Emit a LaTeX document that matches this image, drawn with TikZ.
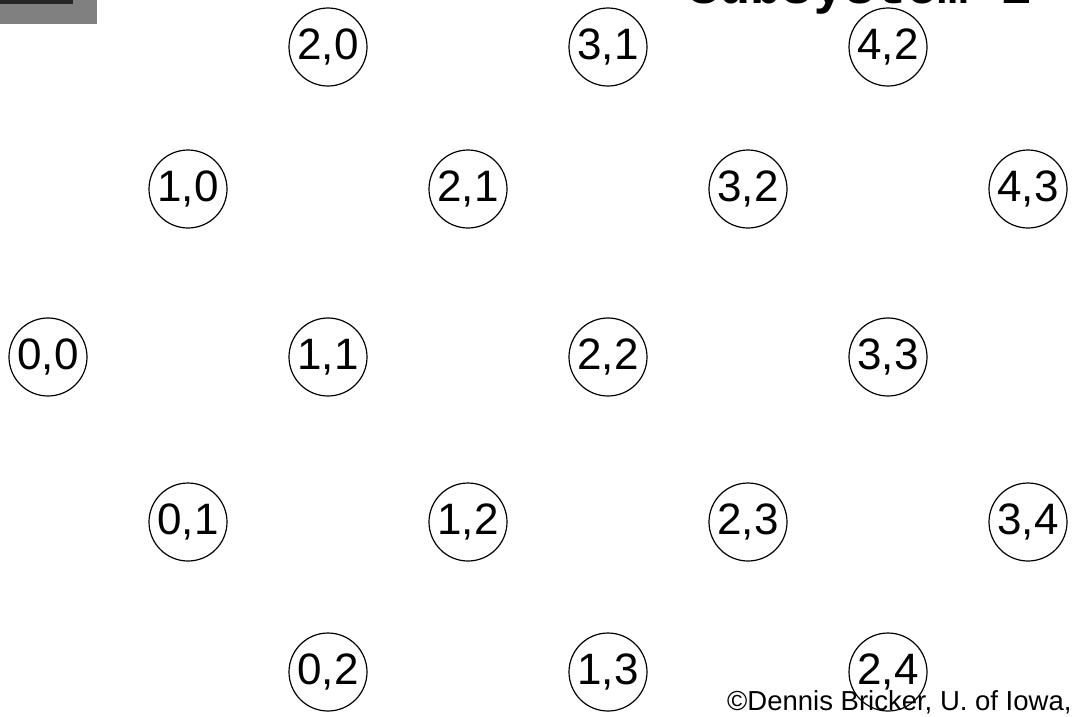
\documentclass[tikz,border=0pt]{standalone}
\usepackage{fontspec}
\setmainfont{Liberation Sans}
\newfontfamily\monofnt{Liberation Mono}
\begin{document}
\begin{tikzpicture}[x=1pt,y=1pt,
  statenode/.style={circle,draw=black,line width=1.2pt,minimum size=78pt,inner sep=0pt,
    font=\fontsize{44}{44}\selectfont},
  credit/.style={anchor=base west,inner sep=0pt,font=\fontsize{27.5}{27.5}\selectfont},
  titletext/.style={anchor=base west,inner sep=0pt,font=\monofnt\bfseries\fontsize{52}{52}\selectfont}]
\useasboundingbox (0,0) rectangle (1075,-716);
\clip (0,0) rectangle (1075,-716);
\fill[white] (0,0) rectangle (1075,-716);
% gray patterned corner
\fill[black!50] (0,0) rectangle (97,-24);
\fill[black!85] (0,0) rectangle (73,-4);
% title, cut by the top edge
\node[titletext] (title) at (688,-3) {Subsystem 1};
% state nodes
\foreach \i/\j in {2/0,3/1,4/2,1/0,2/1,3/2,4/3,0/0,1/1,2/2,3/3,0/1,1/2,2/3,3/4,0/2,1/3,2/4}{
  \pgfmathsetmacro{\cx}{48+140*(\i+\j)}
  \pgfmathtruncatemacro{\rw}{2+\j-\i}
  \pgfmathsetmacro{\cy}{{47,189,357,522,672}[\rw]}
  \node[statenode] (n\i\j) at (\cx,-\cy) {\i,\j};
}
\node[credit] (copy) at (727,-710) {©Dennis Bricker, U. of Iowa,};
\end{tikzpicture}
\end{document}
